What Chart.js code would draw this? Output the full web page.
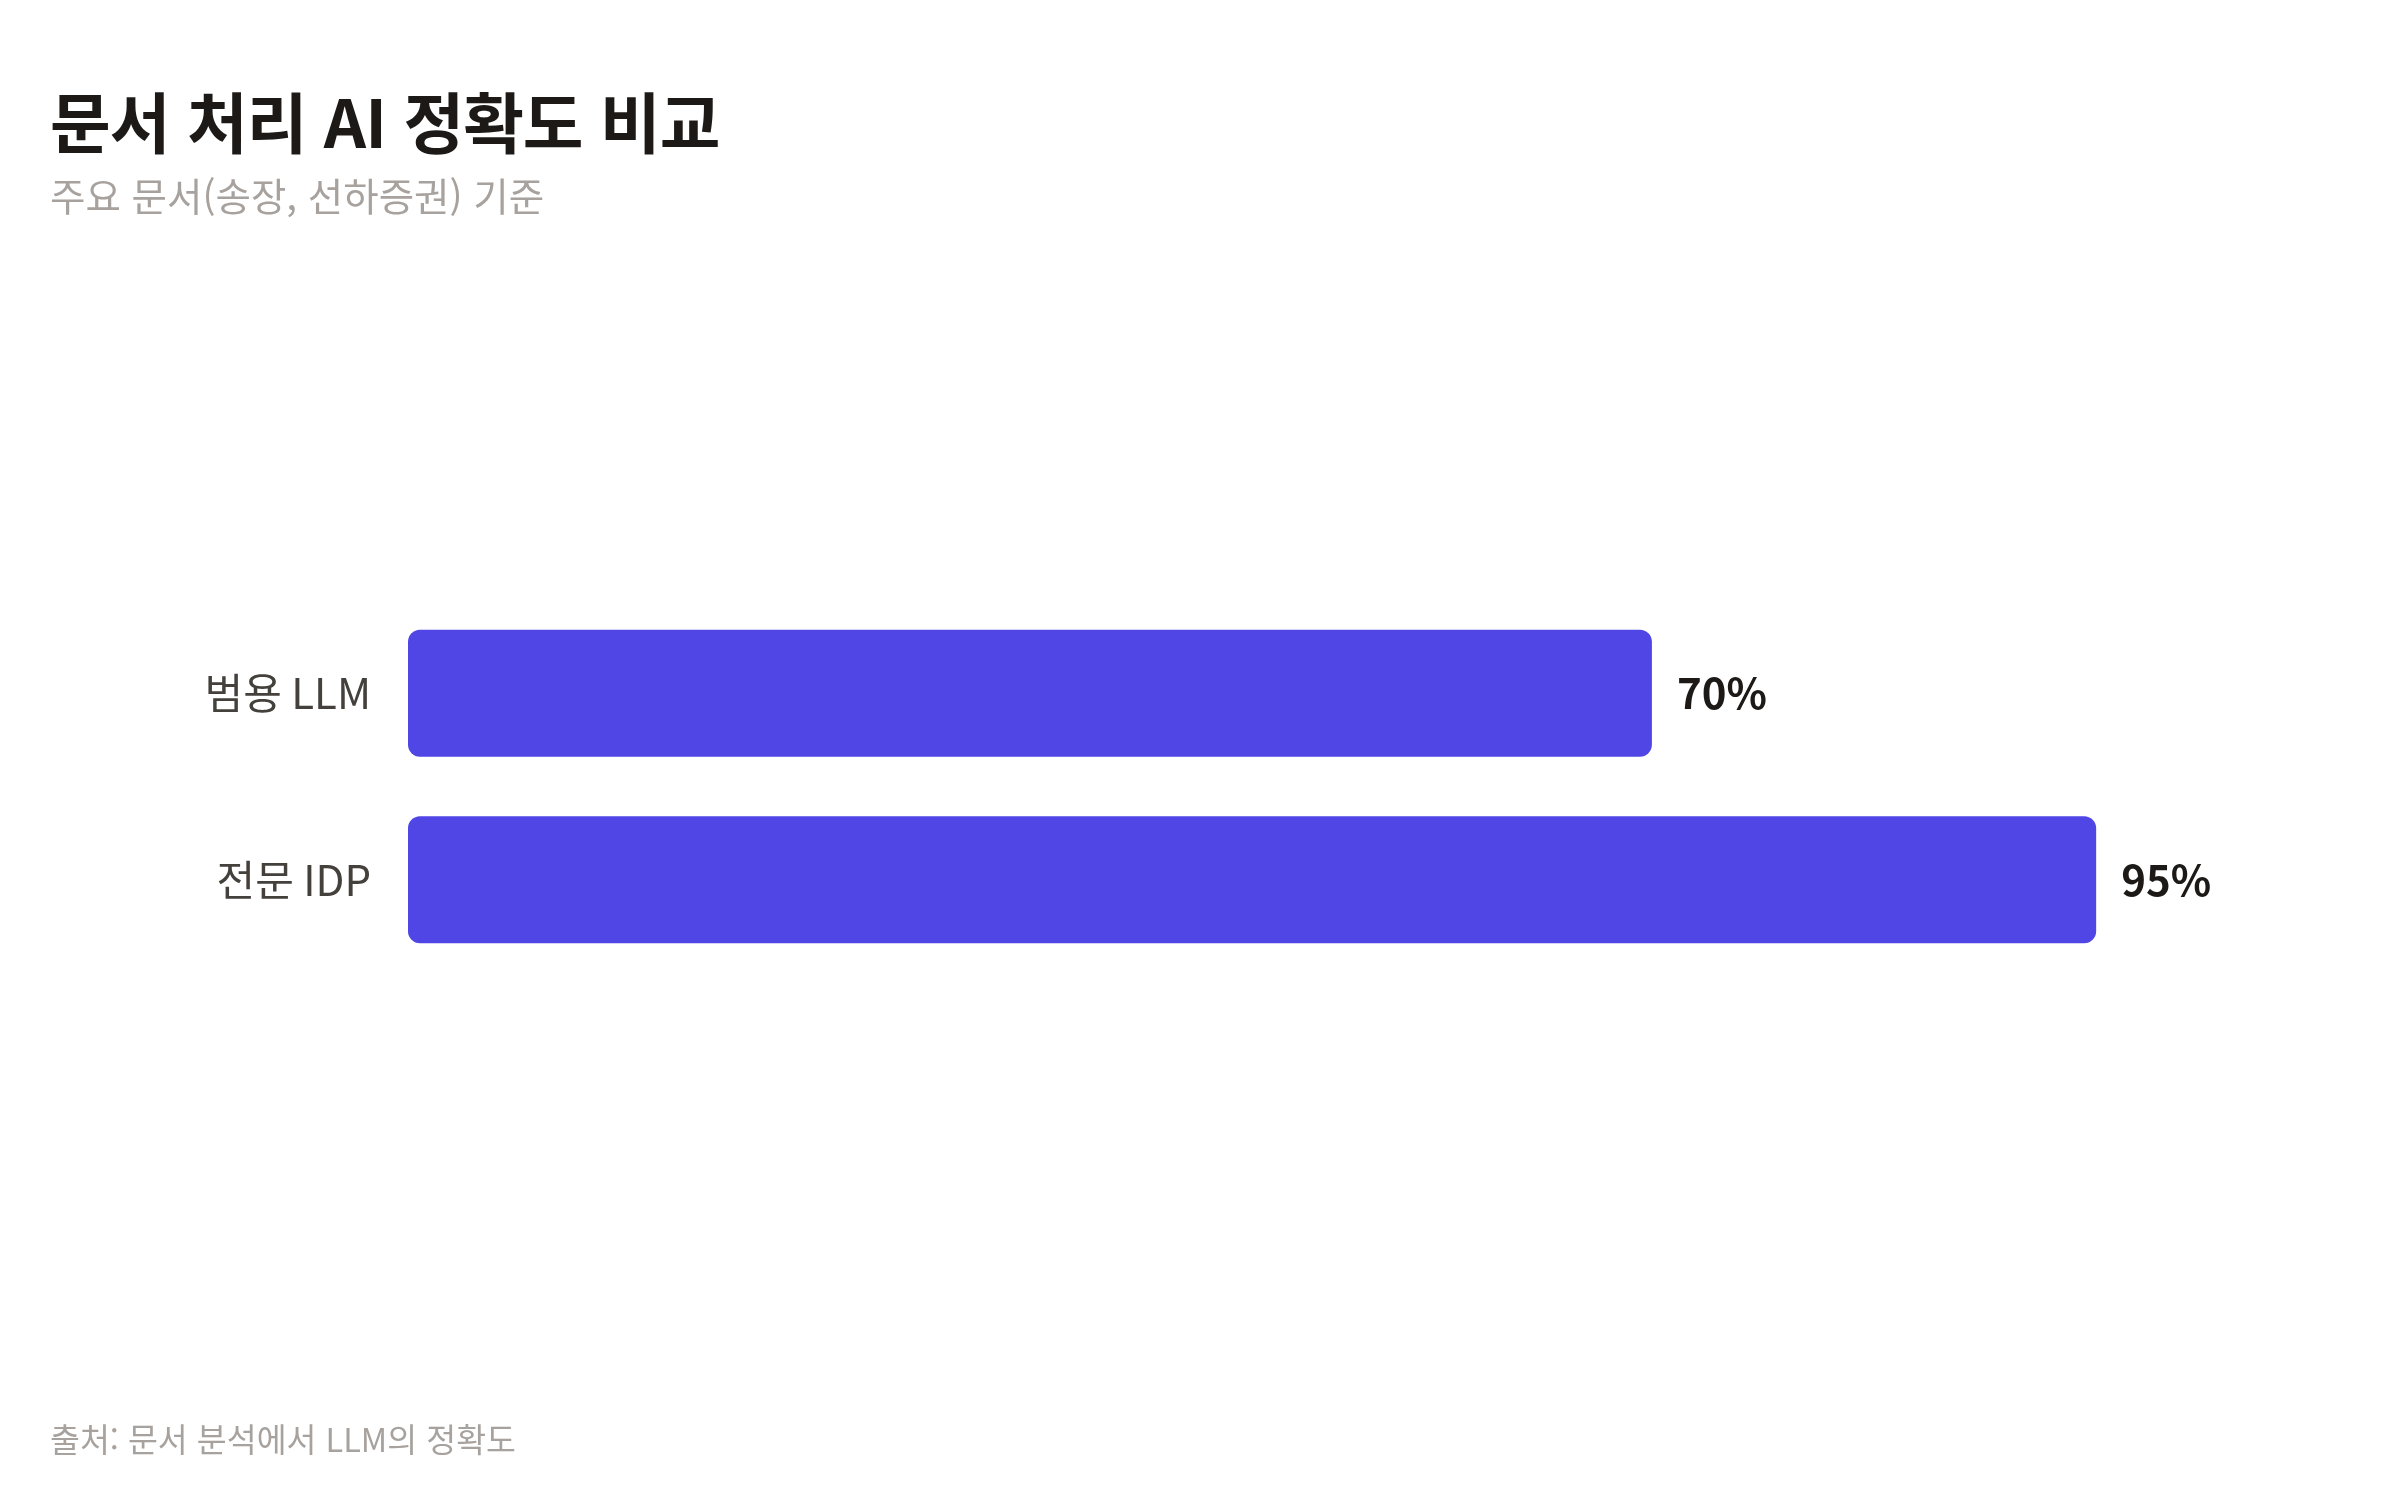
<!DOCTYPE html>
<html lang="ko">
<head>
<meta charset="utf-8">
<title>문서 처리 AI 정확도 비교</title>
<script src="https://cdn.jsdelivr.net/npm/chart.js@4"></script>
<style>
  html, body { margin: 0; padding: 0; background: #ffffff; }
  body { width: 2400px; height: 1500px; position: relative; overflow: hidden;
         font-family: "Noto Sans CJK KR", "Noto Sans", sans-serif; }
  #chartBox { position: absolute; left: 0; top: 0; width: 2400px; height: 1500px; }
  .txt { position: absolute; left: 50px; margin: 0; line-height: 1; white-space: nowrap; }
  #title { top: 86px; font-size: 66px; font-weight: 700; color: #1c1917; letter-spacing: -1px; }
  #subtitle { top: 175px; font-size: 38.5px; font-weight: 400; color: #a8a29e; }
  #source { top: 1422px; font-size: 32.5px; font-weight: 400; color: #a8a29e; }
</style>
</head>
<body>
<div id="chartBox"><canvas id="accuracyChart"></canvas></div>
<h1 class="txt" id="title">문서 처리 AI 정확도 비교</h1>
<div class="txt" id="subtitle">주요 문서(송장, 선하증권) 기준</div>
<div class="txt" id="source">출처: 문서 분석에서 LLM의 정확도</div>

<script>
// 데이터
const categories = ['범용 LLM', '전문 IDP'];
const accuracy = [70, 95];
const valueSuffix = '%';

const barColor = '#4f46e5';

// 막대 끝에 값 표시
const valueLabels = {
  id: 'valueLabels',
  afterDatasetsDraw(chart) {
    const ctx = chart.ctx;
    const meta = chart.getDatasetMeta(0);
    ctx.save();
    ctx.font = "700 42px 'Noto Sans CJK KR', sans-serif";
    ctx.fillStyle = '#1c1917';
    ctx.textAlign = 'left';
    ctx.textBaseline = 'middle';
    meta.data.forEach((bar, i) => {
      ctx.fillText(accuracy[i] + valueSuffix, bar.x + 25, bar.y);
    });
    ctx.restore();
  }
};

document.addEventListener('DOMContentLoaded', function () {
  const ctx = document.getElementById('accuracyChart').getContext('2d');

  new Chart(ctx, {
    type: 'bar',
    data: {
      labels: categories,
      datasets: [{
        label: '정확도',
        data: accuracy,
        backgroundColor: barColor,
        borderRadius: 12,
        borderSkipped: false,
        barPercentage: 0.68,
        categoryPercentage: 1.0
      }]
    },
    options: {
      indexAxis: 'y',
      responsive: true,
      maintainAspectRatio: false,
      animation: false,
      layout: {
        padding: { top: 600, bottom: 527, left: 0, right: 215 }
      },
      plugins: {
        legend: { display: false },
        tooltip: { enabled: false }
      },
      scales: {
        x: {
          display: false,
          min: 0,
          max: 100
        },
        y: {
          grid: { display: false, drawTicks: false },
          border: { display: false },
          ticks: {
            padding: 37,
            color: '#44403c',
            font: { size: 42, family: "'Noto Sans CJK KR', sans-serif" }
          },
          afterFit(scale) {
            scale.width = 408;
          }
        }
      }
    },
    plugins: [valueLabels]
  });
});
</script>
</body>
</html>
